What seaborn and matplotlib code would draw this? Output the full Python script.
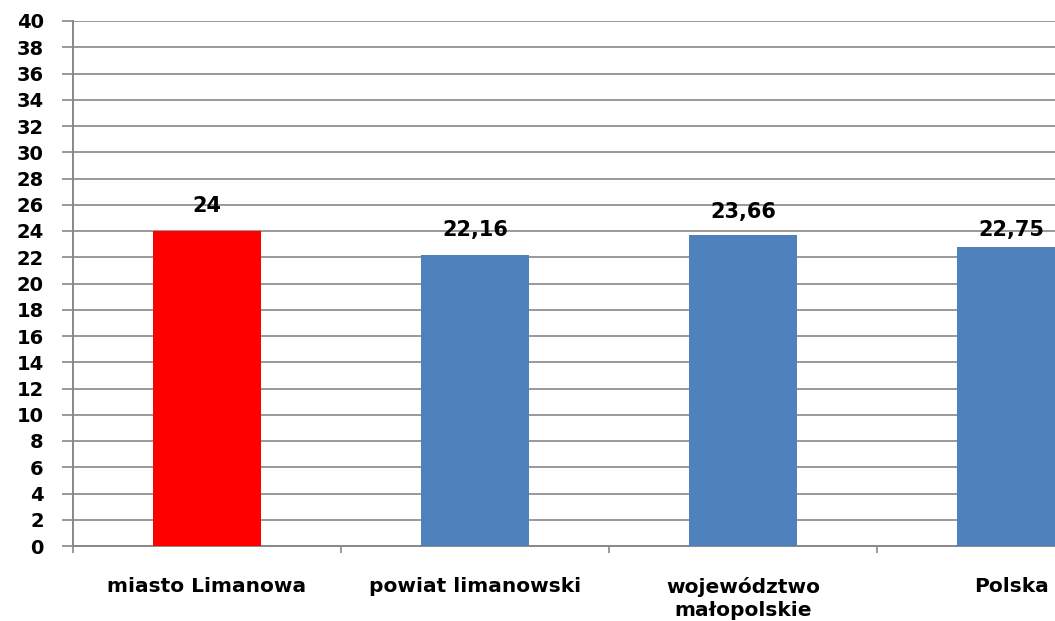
import matplotlib
matplotlib.use("Agg")
import matplotlib.pyplot as plt
import seaborn as sns
import pandas as pd

categories = ["miasto Limanowa", "powiat limanowski", "województwo\nmałopolskie", "Polska"]
values = [24, 22.16, 23.66, 22.75]
value_labels = ["24", "22,16", "23,66", "22,75"]
colors = ["#FF0000", "#4F81BD", "#4F81BD", "#4F81BD"]
yticks = list(range(0, 41, 2))

sns.set_style("white")
plt.rcParams["font.family"] = ["DejaVu Sans"]
plt.rcParams["text.color"] = "black"
plt.rcParams["xtick.labelcolor"] = "black"
plt.rcParams["ytick.labelcolor"] = "black"

fig = plt.figure(figsize=(10.55, 6.21), dpi=100)
ax = fig.add_axes([73 / 1055, (621 - 546) / 621, (1055 - 73) / 1055, (546 - 21) / 621])

df = pd.DataFrame({"cat": categories, "val": values})
sns.barplot(data=df, x="cat", y="val", hue="cat", palette=colors, width=0.4,
            legend=False, ax=ax, saturation=1, linewidth=0, zorder=3)

ax.set_yticks(yticks)
ax.set_yticklabels([str(t) for t in yticks], fontsize=14, fontweight="bold")
ax.yaxis.grid(True, color="#888888", linewidth=1.2, zorder=0)
ax.set_axisbelow(True)

ax.set_xticks([i + 0.5 for i in range(-1, 4)])
ax.set_xticklabels([])
ax.set_xticks(range(4), minor=True)
ax.set_xticklabels(categories, minor=True, fontsize=14.5, fontweight="bold", linespacing=1.3)
ax.tick_params(axis="x", which="minor", length=0, pad=22, bottom=False)
ax.tick_params(axis="x", which="major", length=5, width=1.2, color="#888888", direction="out", bottom=True)
ax.tick_params(axis="y", length=8, width=1.2, color="#888888", direction="out", left=True, pad=13)

ax.set_ylim(0, 40)
ax.set_xlim(-0.5, (1055 - 207) / 268)

for s in ["top", "right"]:
    ax.spines[s].set_visible(False)
for s in ["left", "bottom"]:
    ax.spines[s].set_color("#888888")
    ax.spines[s].set_linewidth(1.4)

ax.set_xlabel("")
ax.set_ylabel("")

pads = [11, 11, 10, 5]
for cont, lab, p in zip(ax.containers, value_labels, pads):
    ax.bar_label(cont, labels=[lab], padding=p, fontsize=15, fontweight="bold", color="black")

fig.savefig("out.png", dpi=100)
